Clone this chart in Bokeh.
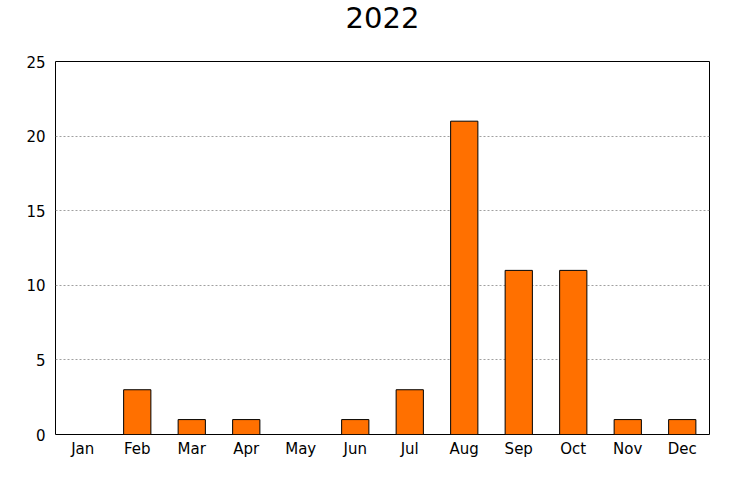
from bokeh.plotting import figure
from bokeh.models import FactorRange, Range1d, FixedTicker, ColumnDataSource, Title
from bokeh.embed import file_html
from bokeh.resources import INLINE

months = ["Jan", "Feb", "Mar", "Apr", "May", "Jun", "Jul", "Aug", "Sep", "Oct", "Nov", "Dec"]
counts = [0, 3, 1, 1, 0, 1, 3, 21, 11, 11, 1, 1]
y_ticks = [0, 5, 10, 15, 20, 25]
title_text = "2022"

src = ColumnDataSource(dict(month=months, count=counts))

p = figure(width=740, height=480, output_backend="svg", toolbar_location=None,
           x_range=FactorRange(*months), y_range=Range1d(0, 25),
           min_border_left=55, min_border_right=31, min_border_top=61, min_border_bottom=46)

p.vbar(x="month", top="count", width=0.5, source=src,
       fill_color="#ff7000", line_color="black", line_width=1)

# spacer between frame and title (nearest the frame)
spacer = Title(text=" ", text_font_size="13px", standoff=12)
p.add_layout(spacer, "above")
main_title = Title(text=title_text, align="center", vertical_align="top",
                   text_font="DejaVu Sans", text_font_size="29px",
                   text_font_style="normal", text_color="black", standoff=6)
p.add_layout(main_title, "above")

p.outline_line_color = "black"
p.outline_line_width = 1
p.outline_line_alpha = 1

for ax in (p.xaxis, p.yaxis):
    ax.axis_line_color = None
    ax.major_tick_line_color = None
    ax.minor_tick_line_color = None
    ax.major_tick_out = 0
    ax.major_tick_in = 0
    ax.minor_tick_out = 0
    ax.minor_tick_in = 0
    ax.major_label_text_font = "DejaVu Sans"
    ax.major_label_text_font_size = "15px"
    ax.major_label_text_color = "black"

p.yaxis.ticker = FixedTicker(ticks=y_ticks)
p.yaxis.major_label_standoff = 10
p.xaxis.major_label_standoff = 5

p.xgrid.grid_line_color = None
p.ygrid.grid_line_color = "#a0a0a0"
p.ygrid.grid_line_dash = "2 2"
p.ygrid.grid_line_width = 1

p.background_fill_color = "white"
p.border_fill_color = "white"

open("out.html", "w").write(file_html(p, INLINE))
